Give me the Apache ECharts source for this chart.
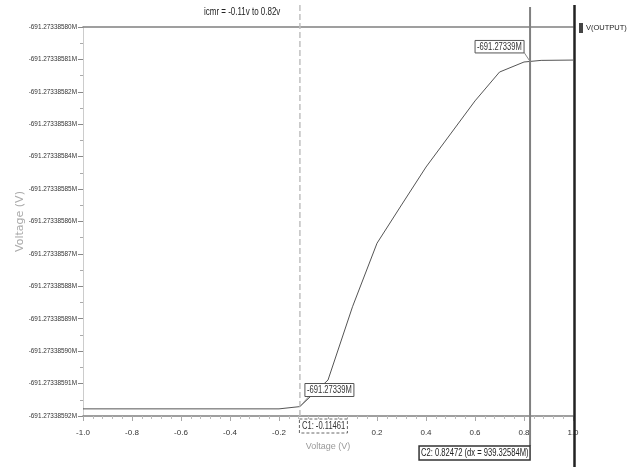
<!DOCTYPE html>
<html>
<head>
<meta charset="utf-8">
<script src="https://cdn.jsdelivr.net/npm/echarts@6/dist/echarts.min.js"></script>
<style>
html,body{margin:0;padding:0;background:#fff;}
#c{width:627px;height:467px;}
</style>
</head>
<body>
<div id="c"></div>
<script>
// ---- data ----
const xValues = [-1.0, -0.8, -0.6, -0.4, -0.2, -0.115, 0.0, 0.1, 0.2, 0.3, 0.4, 0.5, 0.6, 0.7, 0.8, 0.87, 1.0];
const yValues = [-691.2733859178, -691.2733859178, -691.2733859178, -691.2733859178, -691.2733859178,
  -691.2733859171, -691.2733859089, -691.2733858863, -691.2733858667, -691.2733858549,
  -691.2733858432, -691.2733858330, -691.2733858228, -691.2733858139, -691.2733858108,
  -691.2733858103, -691.2733858102];
const seriesName = 'V(OUTPUT)';
const titleText = 'icmr = -0.11v to 0.82v';
const yMin = -691.27338592, yMax = -691.2733858, yStep = 0.00000001;
const xMin = -1.0, xMax = 1.0, xStep = 0.2;
const cursor1 = -0.11461, cursor2 = 0.82472;
const cursorValueLabel = '-691.27339M';
const c1Text = 'C1: -0.11461';
const c2Text = 'C2: 0.82472 (dx = 939.32584M)';

const FONT = '"Liberation Sans", Arial, sans-serif';
const NS = 0.76; // horizontal squeeze to imitate a narrow font

const chart = echarts.init(document.getElementById('c'), null, {renderer: 'canvas'});
const data = xValues.map((x, i) => [x, yValues[i]]);

chart.setOption({
  animation: false,
  backgroundColor: '#fff',
  legend: {
    data: [{name: seriesName, icon: 'rect'}],
    left: 579, top: 23, itemWidth: 4, itemHeight: 10, itemGap: 3,
    padding: 0,
    textStyle: {fontFamily: FONT, fontSize: 7.5, color: '#222', padding: [0,0,0,-2]}
  },
  grid: {left: 83, right: 54, top: 27, bottom: 51, outerBoundsMode: 'none', containLabel: false},
  xAxis: [{
    type: 'value', min: xMin, max: xMax, interval: xStep, position: 'bottom',
    name: 'Voltage (V)', nameLocation: 'middle', nameGap: 25,
    nameTextStyle: {fontFamily: FONT, fontSize: 9, color: '#999'},
    axisLine: {show: true, onZero: false, lineStyle: {color: '#808080', width: 1.5}},
    axisTick: {show: true, length: 5, lineStyle: {color: '#aaa'}},
    minorTick: {show: true, splitNumber: 5, length: 3, lineStyle: {color: '#bbb'}},
    splitLine: {show: false},
    axisLabel: {fontFamily: FONT, fontSize: 8, color: '#333', margin: 13,
      formatter: v => (Math.abs(v) < 1e-9 ? '' : v.toFixed(1))}
  }, {
    type: 'value', min: xMin, max: xMax, position: 'top',
    axisLine: {show: true, onZero: false, lineStyle: {color: '#808080', width: 1.5}},
    axisTick: {show: false}, axisLabel: {show: false}, splitLine: {show: false}
  }],
  yAxis: {
    type: 'value', min: yMin, max: yMax, interval: yStep,
    name: 'Voltage (V)', nameLocation: 'middle', nameGap: 57, nameRotate: 90,
    nameMoveOverlap: false,
    nameTextStyle: {fontFamily: 'DejaVu Sans', fontSize: 11, color: '#aaa'},
    axisLine: {show: true, onZero: false, lineStyle: {color: '#ccc', width: 1}},
    axisTick: {show: true, length: 5, lineStyle: {color: '#888'}},
    minorTick: {show: true, splitNumber: 2, length: 3, lineStyle: {color: '#aaa'}},
    splitLine: {show: false},
    axisLabel: {fontFamily: FONT, fontSize: 6.4, color: '#333', margin: 6,
      formatter: v => v.toFixed(8) + 'M'}
  },
  series: [{
    name: seriesName, type: 'line', data: data, showSymbol: false,
    lineStyle: {color: '#555', width: 1}, itemStyle: {color: '#444'}
  }]
});

function interpY(x) {
  for (let i = 0; i < xValues.length - 1; i++) {
    if (x >= xValues[i] && x <= xValues[i+1]) {
      const t = (x - xValues[i]) / (xValues[i+1] - xValues[i]);
      return yValues[i] + t * (yValues[i+1] - yValues[i]);
    }
  }
  return yValues[yValues.length - 1];
}

const p1 = chart.convertToPixel({gridIndex: 0}, [cursor1, interpY(cursor1)]);
const p2 = chart.convertToPixel({gridIndex: 0}, [cursor2, interpY(cursor2)]);
const W = 627, H = 467;

const txt = (x, y, s, size, color) => ({
  type: 'text', x: x, y: y, z: 20, scaleX: NS, originX: 0,
  style: {text: s, fontFamily: FONT, fontSize: size, fill: color, align: 'left', verticalAlign: 'middle'}
});

const g = [];
// title
g.push(txt(204, 12, titleText, 10.5, '#222'));
// C1 cursor dashed line
g.push({type: 'line', z: 5, shape: {x1: p1[0], y1: 5, x2: p1[0], y2: 419},
  style: {stroke: '#c0c0c0', lineWidth: 1.5, lineDash: [6, 3]}});
// C2 cursor line
g.push({type: 'line', z: 5, shape: {x1: p2[0], y1: 7, x2: p2[0], y2: 446},
  style: {stroke: '#808080', lineWidth: 2}});
// separator thick line
g.push({type: 'line', z: 5, shape: {x1: 574.5, y1: 5, x2: 574.5, y2: H},
  style: {stroke: '#222', lineWidth: 2.5}});
// C1 box
g.push({type: 'rect', z: 15, shape: {x: p1[0] - 0.5, y: 419, width: 48, height: 14},
  style: {fill: '#fff', stroke: '#666', lineWidth: 1, lineDash: [3, 2]}});
g.push(txt(p1[0] + 2, 426, c1Text, 10, '#333'));
// C2 box
g.push({type: 'rect', z: 15, shape: {x: p2[0] - 111, y: 446, width: 111, height: 14},
  style: {fill: '#fff', stroke: '#333', lineWidth: 1.5}});
g.push(txt(p2[0] - 109, 453, c2Text, 10, '#222'));
// Marker label at C1
g.push({type: 'line', z: 12, shape: {x1: p1[0], y1: p1[1], x2: p1[0] + 9, y2: p1[1] - 10},
  style: {stroke: '#888', lineWidth: 1}});
g.push({type: 'rect', z: 15, shape: {x: p1[0] + 5, y: p1[1] - 23, width: 49, height: 13},
  style: {fill: '#fff', stroke: '#555', lineWidth: 1}});
g.push(txt(p1[0] + 7, p1[1] - 16.5, cursorValueLabel, 10, '#333'));
// Marker label at C2
g.push({type: 'line', z: 12, shape: {x1: p2[0], y1: p2[1], x2: p2[0] - 6, y2: p2[1] - 9},
  style: {stroke: '#888', lineWidth: 1}});
g.push({type: 'rect', z: 15, shape: {x: p2[0] - 55, y: p2[1] - 21, width: 49, height: 12.5},
  style: {fill: '#fff', stroke: '#555', lineWidth: 1}});
g.push(txt(p2[0] - 53, p2[1] - 14.5, cursorValueLabel, 10, '#333'));

chart.setOption({graphic: g});
</script>
</body>
</html>
